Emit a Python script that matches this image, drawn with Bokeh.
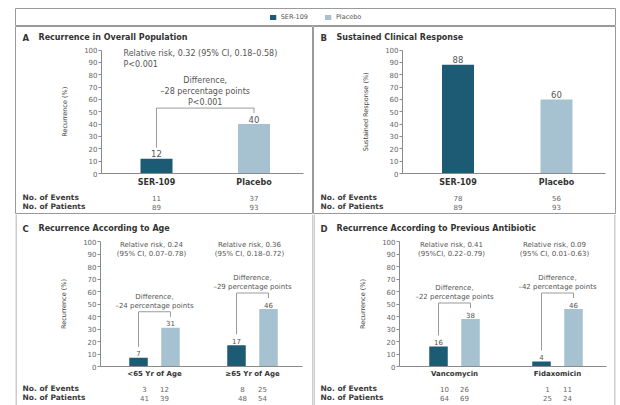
import math
from bokeh.plotting import figure
from bokeh.models import (Range1d, LinearAxis, FixedTicker, Legend, LegendItem,
                          ColumnDataSource, Span)
from bokeh.layouts import column, row
from bokeh.embed import file_html
from bokeh.resources import INLINE
from bokeh.core.properties import value

FONT = "DejaVu Sans"

# ---------------- data ----------------
SERIES = ["SER-109", "Placebo"]
SERIES_COLORS = ["#1d5b74", "#a6c1cf"]
Y_TICKS = [0, 10, 20, 30, 40, 50, 60, 70, 80, 90, 100]
ROW_LABELS = ["No. of Events", "No. of Patients"]

A_LETTER = "A"
A_TITLE = "Recurrence in Overall Population"
A_YLABEL = "Recurrence (%)"
A_GROUPS = ["SER-109", "Placebo"]
A_VALUES = [12, 40]
A_EVENTS = [11, 37]
A_PATIENTS = [89, 93]
A_NOTE = ["Relative risk, 0.32 (95% CI, 0.18–0.58)", "P<0.001"]
A_DIFF = ["Difference,", "–28 percentage points", "P<0.001"]

B_LETTER = "B"
B_TITLE = "Sustained Clinical Response"
B_YLABEL = "Sustained Response (%)"
B_GROUPS = ["SER-109", "Placebo"]
B_VALUES = [88, 60]
B_EVENTS = [78, 56]
B_PATIENTS = [89, 93]

C_LETTER = "C"
C_TITLE = "Recurrence According to Age"
C_YLABEL = "Recurrence (%)"
C_GROUPS = ["<65 Yr of Age", "≥65 Yr of Age"]
C_SER = [7, 17]
C_PLA = [31, 46]
C_SER_EVENTS = [3, 8]
C_PLA_EVENTS = [12, 25]
C_SER_PATIENTS = [41, 48]
C_PLA_PATIENTS = [39, 54]
C_NOTES = [["Relative risk, 0.24", "(95% CI, 0.07–0.78)"],
           ["Relative risk, 0.36", "(95% CI, 0.18–0.72)"]]
C_DIFFS = [["Difference,", "–24 percentage points"],
           ["Difference,", "–29 percentage points"]]

D_LETTER = "D"
D_TITLE = "Recurrence According to Previous Antibiotic"
D_YLABEL = "Recurrence (%)"
D_GROUPS = ["Vancomycin", "Fidaxomicin"]
D_SER = [16, 4]
D_PLA = [38, 46]
D_SER_EVENTS = [10, 1]
D_PLA_EVENTS = [26, 11]
D_SER_PATIENTS = [64, 25]
D_PLA_PATIENTS = [69, 24]
D_NOTES = [["Relative risk, 0.41", "(95%CI, 0.22–0.79)"],
           ["Relative risk, 0.09", "(95% CI, 0.01–0.63)"]]
D_DIFFS = [["Difference,", "–22 percentage points"],
           ["Difference,", "–42 percentage points"]]

# ---------------- layout / style ----------------
BORDER = "#9a9a9a"
AXIS_COLOR = "#8a8a8a"
TITLE_COLOR = "#333333"
TEXT_COLOR = "#555555"
BRACKET_COLOR = "#9a9a9a"

COMMON_AB = dict(h=188, p100=23.5, p0=147, title=11, rows=(171, 180), bar_w=32,
                 cat_size=8, cat_standoff=4, note_size=8, val_size=8.5, outline=True)
COMMON_CD = dict(h=191, p100=27, p0=152, title=14, rows=(174, 183), bar_w=18.5, pair=16,
                 table=10, cat_size=7, cat_standoff=3, note_size=7, val_size=7,
                 outline=False)
LAY_A = dict(COMMON_AB, w=298, lb=15, rb=0, axis=86, slot0=141, slot_w=97.5, base_end=288)
LAY_B = dict(COMMON_AB, w=302, lb=0, rb=5, axis=89, slot0=144.5, slot_w=98.5, base_end=292)
LAY_C = dict(COMMON_CD, w=298, lb=15, rb=0, axis=85, slot0=139, slot_w=98, base_end=287)
LAY_D = dict(COMMON_CD, w=302, lb=0, rb=5, axis=86, slot0=141, slot_w=103, base_end=293)


def px_x(L, px):
    return (px - L["slot0"]) / L["slot_w"]


def px_y(L, px):
    return (L["p0"] - px) * 100.0 / (L["p0"] - L["p100"])


def dy(L, pixels):
    return pixels * 100.0 / (L["p0"] - L["p100"])


def txt(p, x, y, s, size, color=TEXT_COLOR, bold=False, align="left",
        baseline="middle", y_offset=0, angle=0.0):
    p.text(x=[x], y=[y], text=[s], text_font=value(FONT), text_font_size=f"{size}px",
           text_color=color, text_font_style="bold" if bold else "normal",
           text_align=align, text_baseline=baseline, y_offset=y_offset,
           text_line_height=1.2, angle=angle)


def base_panel(L, letter, title, ylabel, groups):
    p = figure(width=L["w"] + L["lb"] + L["rb"], height=L["h"],
               x_range=Range1d(px_x(L, 0), px_x(L, L["w"])),
               y_range=Range1d(px_y(L, L["h"]), px_y(L, 0)),
               x_axis_type=None, y_axis_type=None, toolbar_location=None,
               output_backend="svg",
               min_border_left=L["lb"], min_border_right=L["rb"],
               min_border_top=0, min_border_bottom=0,
               outline_line_color=BORDER if L["outline"] else None,
               background_fill_color="white", border_fill_color="white")
    if not L["outline"]:
        p.add_layout(Span(location=px_x(L, 0.5), dimension="height",
                          line_color=BORDER, line_width=1))
        p.add_layout(Span(location=px_x(L, L["w"] - 0.5), dimension="height",
                          line_color=BORDER, line_width=1))

    yax = LinearAxis(fixed_location=px_x(L, L["axis"]),
                     ticker=FixedTicker(ticks=Y_TICKS), bounds=(0, 100),
                     major_label_text_font=FONT, major_label_text_font_size="7px",
                     major_label_text_color="#666666", major_label_standoff=1,
                     major_tick_out=3, major_tick_in=0, minor_tick_line_color=None,
                     axis_line_color=AXIS_COLOR, major_tick_line_color=AXIS_COLOR)
    p.add_layout(yax, "left")
    txt(p, px_x(L, L["axis"] - 37), 50, ylabel, 6.5, color="#444444", align="center",
        angle=math.pi / 2)

    xax = LinearAxis(fixed_location=0,
                     ticker=FixedTicker(ticks=list(range(len(groups)))),
                     major_label_overrides={i: g for i, g in enumerate(groups)},
                     bounds=(px_x(L, L["axis"]), px_x(L, L["base_end"])),
                     major_tick_line_color=None, major_tick_out=0, major_tick_in=0,
                     minor_tick_line_color=None, major_label_standoff=L["cat_standoff"],
                     major_label_text_font=FONT,
                     major_label_text_font_size=f"{L['cat_size']}px",
                     major_label_text_font_style="bold",
                     major_label_text_color=TITLE_COLOR, axis_line_color=AXIS_COLOR)
    p.add_layout(xax, "below")

    ty = px_y(L, L["title"])
    txt(p, px_x(L, 7), ty, letter, 8.5, color=TITLE_COLOR, bold=True)
    txt(p, px_x(L, 23), ty, title, 8, color=TITLE_COLOR, bold=True)
    for lab, rpx in zip(ROW_LABELS, L["rows"]):
        txt(p, px_x(L, 7), px_y(L, rpx), lab, 7.5, color="#3a3a3a", bold=True)
    return p


def bracket(p, L, x_ser, x_pla, v_ser, v_pla, lines, size):
    top = max(v_ser, v_pla) + dy(L, 16)
    p.multi_line(xs=[[x_ser, x_ser, x_pla, x_pla]],
                 ys=[[v_ser + dy(L, 11), top, top, v_pla + dy(L, 11)]],
                 line_color=BRACKET_COLOR, line_width=1)
    txt(p, (x_ser + x_pla) / 2.0, top, "\n".join(lines), size, align="center",
        baseline="bottom", y_offset=-1.5)


def simple_panel(L, letter, title, ylabel, groups, values, events, patients):
    p = base_panel(L, letter, title, ylabel, groups)
    xs = list(range(len(groups)))
    src = ColumnDataSource(dict(x=xs, top=values, color=SERIES_COLORS,
                                label=[str(v) for v in values]))
    p.vbar(x="x", top="top", width=L["bar_w"] / L["slot_w"], fill_color="color",
           line_color=None, source=src)
    p.text(x="x", y="top", text="label", source=src, text_font=value(FONT),
           text_font_size=f"{L['val_size']}px", text_color=TEXT_COLOR,
           text_align="center", text_baseline="bottom", y_offset=-1.5)
    for vals, rpx in zip([events, patients], L["rows"]):
        p.text(x=xs, y=[px_y(L, rpx)] * len(xs), text=[str(v) for v in vals],
               text_font=value(FONT), text_font_size="7px", text_color="#666666",
               text_align="center", text_baseline="middle")
    return p


def paired_panel(L, letter, title, ylabel, groups, ser, pla, ser_ev, pla_ev,
                 ser_pat, pla_pat, notes, diffs):
    p = base_panel(L, letter, title, ylabel, groups)
    off = L["pair"] / L["slot_w"]
    toff = L["table"] / L["slot_w"]
    gx = list(range(len(groups)))
    for vals, sign, color in [(ser, -1, SERIES_COLORS[0]), (pla, 1, SERIES_COLORS[1])]:
        src = ColumnDataSource(dict(x=[g + sign * off for g in gx], top=vals,
                                    label=[str(v) for v in vals]))
        p.vbar(x="x", top="top", width=L["bar_w"] / L["slot_w"], fill_color=color,
               line_color=None, source=src)
        p.text(x="x", y="top", text="label", source=src, text_font=value(FONT),
               text_font_size=f"{L['val_size']}px", text_color=TEXT_COLOR,
               text_align="center", text_baseline="bottom", y_offset=-1.5)
    for (sv, pv), rpx in zip([(ser_ev, pla_ev), (ser_pat, pla_pat)], L["rows"]):
        for vals, sign in [(sv, -1), (pv, 1)]:
            p.text(x=[g + sign * toff for g in gx], y=[px_y(L, rpx)] * len(gx),
                   text=[str(v) for v in vals], text_font=value(FONT),
                   text_font_size="7px", text_color="#666666",
                   text_align="center", text_baseline="middle")
    for g in gx:
        txt(p, g - 3 / L["slot_w"], 100.5, "\n".join(notes[g]), L["note_size"],
            align="center", baseline="top")
        bracket(p, L, g - off, g + off, ser[g], pla[g], diffs[g], L["note_size"])
    return p


# ---------------- panels ----------------
pA = simple_panel(LAY_A, A_LETTER, A_TITLE, A_YLABEL, A_GROUPS, A_VALUES, A_EVENTS, A_PATIENTS)
txt(pA, px_x(LAY_A, 108), 100.5, "\n".join(A_NOTE), LAY_A["note_size"], baseline="top")
bracket(pA, LAY_A, 0, 1, A_VALUES[0], A_VALUES[1], A_DIFF, LAY_A["note_size"])

pB = simple_panel(LAY_B, B_LETTER, B_TITLE, B_YLABEL, B_GROUPS, B_VALUES, B_EVENTS, B_PATIENTS)

pC = paired_panel(LAY_C, C_LETTER, C_TITLE, C_YLABEL, C_GROUPS, C_SER, C_PLA,
                  C_SER_EVENTS, C_PLA_EVENTS, C_SER_PATIENTS, C_PLA_PATIENTS, C_NOTES, C_DIFFS)
pD = paired_panel(LAY_D, D_LETTER, D_TITLE, D_YLABEL, D_GROUPS, D_SER, D_PLA,
                  D_SER_EVENTS, D_PLA_EVENTS, D_SER_PATIENTS, D_PLA_PATIENTS, D_NOTES, D_DIFFS)

# ---------------- legend strip ----------------
pL = figure(width=620, height=26, x_range=Range1d(0, 1), y_range=Range1d(0, 1),
            x_axis_type=None, y_axis_type=None, toolbar_location=None,
            output_backend="svg", min_border_left=15, min_border_right=5,
            min_border_top=8, min_border_bottom=0, outline_line_color=BORDER)
items = []
for name, c in zip(SERIES, SERIES_COLORS):
    r = pL.vbar(x=[5], top=[0.5], bottom=[0.4], width=0.1, fill_color=c, line_color=None)
    items.append(LegendItem(label=name, renderers=[r]))
leg = Legend(items=items, orientation="horizontal", location="center",
             glyph_width=8, glyph_height=6, label_height=8, label_standoff=4,
             spacing=16, padding=0, margin=0, border_line_color=None,
             background_fill_alpha=0, label_text_font=FONT,
             label_text_font_size="6.5px", label_text_color=TEXT_COLOR)
pL.add_layout(leg)

layout = column(pL, row(pA, pB), row(pC, pD))

open("out.html", "w").write(file_html(layout, INLINE))
